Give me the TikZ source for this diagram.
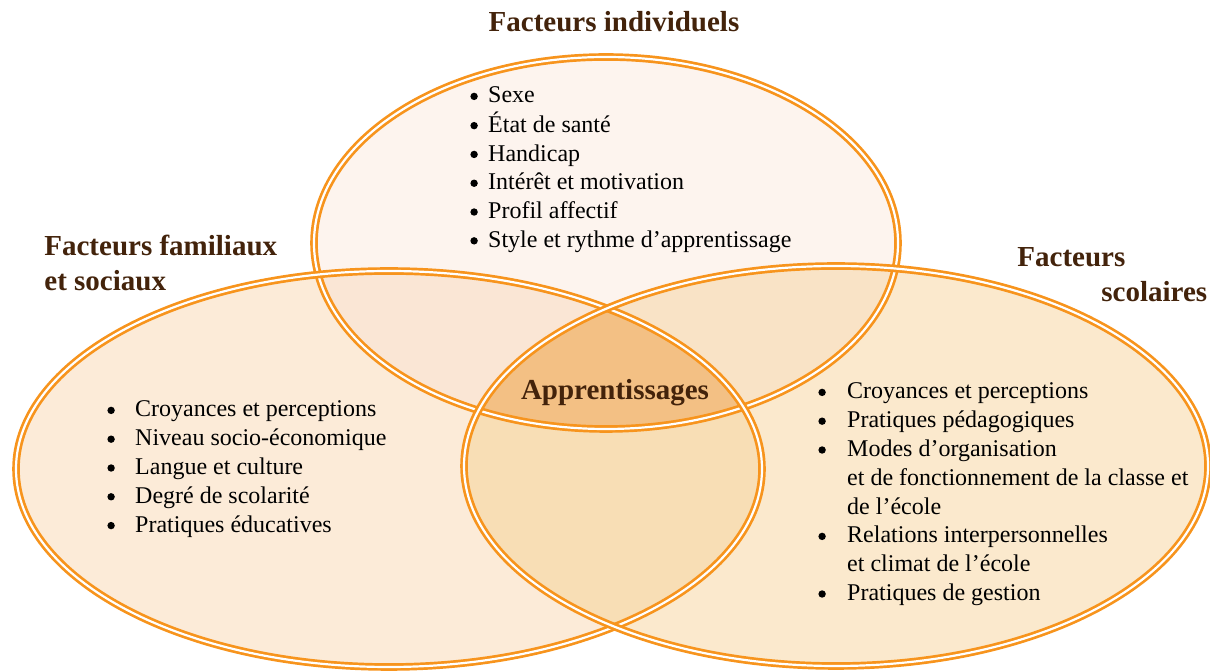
\documentclass[tikz,border=0pt]{standalone}
\usepackage{fontspec}
\setmainfont{Liberation Serif}

\definecolor{vennorange}{HTML}{F7941D}
\definecolor{titlebrown}{HTML}{43230B}
\definecolor{indfill}{HTML}{FDF4EE}
\definecolor{famfill}{HTML}{FCEBD8}
\definecolor{scofill}{HTML}{FBE9CD}
\definecolor{indfam}{HTML}{FAE6D5}
\definecolor{indsco}{HTML}{F9E3C6}
\definecolor{famsco}{HTML}{F8DEB5}
\definecolor{allthree}{HTML}{F3C084}

\newcommand\indellipse{(606,243) ellipse [x radius=292, y radius=186]}
\newcommand\famellipse{(389,469) ellipse [x radius=373, y radius=198]}
\newcommand\scoellipse{(836,466) ellipse [x radius=372, y radius=200]}
\newcommand\itembullet{\tikz[baseline=0pt]\fill (1.9pt,3.3pt) circle (1.85pt);}

\begin{document}
\begin{tikzpicture}[x=0.5pt, y=-0.5pt,
  ring/.style = {draw=vennorange, line width=1.35pt,
    double=white, double distance=1.1pt},
  heading/.style = {font=\bfseries\fontsize{14.5}{17.5}\selectfont,
    text=titlebrown, inner sep=0, align=left},
  itemlist/.style = {font=\fontsize{12}{14.4}\selectfont,
    inner sep=0, anchor=base west}]
  \useasboundingbox (0,0) rectangle (1210,672);
  % fills
  \fill[indfill] \indellipse;
  \fill[famfill] \famellipse;
  \fill[scofill] \scoellipse;
  \begin{scope}
    \clip \indellipse;
    \fill[indfam] \famellipse;
    \fill[indsco] \scoellipse;
  \end{scope}
  \begin{scope}
    \clip \famellipse;
    \fill[famsco] \scoellipse;
    \clip \scoellipse;
    \fill[allthree] \indellipse;
  \end{scope}
  % borders
  \draw[ring] \indellipse;
  \draw[ring] \famellipse;
  \draw[ring] \scoellipse;
  % headings (base = last line)
  \node[heading, anchor=base] (indtitle) at (614,32) {Facteurs individuels};
  \node[heading, anchor=base west] (famtitle) at (44,291) {Facteurs familiaux\\et sociaux};
  \node[heading, anchor=base west] (scotitle) at (1017,302) {Facteurs\\\hspace*{42pt}scolaires};
  \node[heading, anchor=base] (centre) at (615,400) {Apprentissages};
  % lists
  \node[itemlist] (indlist) at (470,103) {\begin{tabular}[t]{@{}l@{\hspace{5.2pt}}l@{}}
    \itembullet & Sexe\\
    \itembullet & État de santé\\
    \itembullet & Handicap\\
    \itembullet & Intérêt et motivation\\
    \itembullet & Profil affectif\\
    \itembullet & Style et rythme d’apprentissage
  \end{tabular}};
  \node[itemlist] (famlist) at (107,417) {\begin{tabular}[t]{@{}l@{\hspace{10.2pt}}l@{}}
    \itembullet & Croyances et perceptions\\
    \itembullet & Niveau socio-économique\\
    \itembullet & Langue et culture\\
    \itembullet & Degré de scolarité\\
    \itembullet & Pratiques éducatives
  \end{tabular}};
  \node[itemlist] (scolist) at (818,399) {\begin{tabular}[t]{@{}l@{\hspace{10.7pt}}l@{}}
    \itembullet & Croyances et perceptions\\
    \itembullet & Pratiques pédagogiques\\
    \itembullet & Modes d’organisation\\
     & et de fonctionnement de la classe et\\
     & de l’école\\
    \itembullet & Relations interpersonnelles\\
     & et climat de l’école\\
    \itembullet & Pratiques de gestion
  \end{tabular}};
\end{tikzpicture}
\end{document}
